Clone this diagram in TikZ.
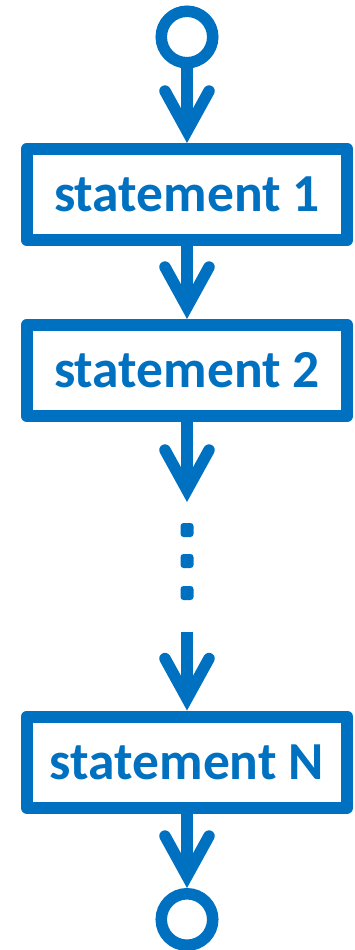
\documentclass[tikz,border=0pt]{standalone}
\usepackage{fontspec}
\setmainfont{Carlito}
\usetikzlibrary{arrows.meta}
\definecolor{ublue}{HTML}{0070C0}
\begin{document}
\begin{tikzpicture}[x=1pt,y=-1pt,
  stmt/.style={draw=ublue, line width=12pt, line join=round, minimum width=320.6pt, minimum height=91pt, inner sep=0pt, font=\bfseries\fontsize{53.5}{60}\selectfont, text=ublue},
  term/.style={circle, draw=ublue, line width=11.5pt, minimum size=51.5pt, inner sep=0pt},
  flow/.style={draw=ublue, line width=11.5pt, -{Straight Barb[length=40pt,width=44pt,line cap=round,line join=miter]}},
  dotbox/.style={fill=ublue, rounded corners=3pt, minimum width=13pt, minimum height=14pt, inner sep=0pt}]
\useasboundingbox (0,0) rectangle (355,950);
\node[term] (start) at (187,37) {};
\node[stmt] (s1) at (187,194.5) {statement 1};
\node[stmt] (s2) at (187,370.5) {statement 2};
\node[stmt] (sN) at (187,762) {statement N};
\node[term] (stop) at (187,919.5) {};
\coordinate (c2) at (187,502);
\coordinate (c3) at (187,632);
\node[dotbox] (d1) at (187,530) {};
\node[dotbox] (d2) at (187,561) {};
\node[dotbox] (d3) at (187,593) {};
\draw[flow] (start) -- (s1);
\draw[flow] (s1) -- (s2);
\draw[flow] (s2) -- (c2);
\draw[flow] (c3) -- (sN);
\draw[flow] (sN) -- (stop);
\end{tikzpicture}
\end{document}
